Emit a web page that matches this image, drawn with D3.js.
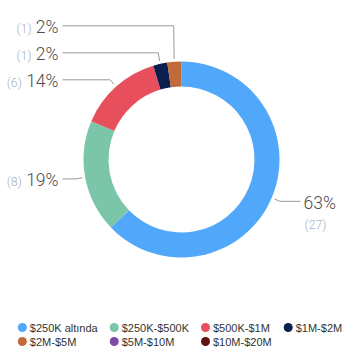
<!DOCTYPE html>
<html>
<head>
<meta charset="utf-8">
<script src="https://cdn.jsdelivr.net/npm/d3@7"></script>
<style>
  html, body { margin: 0; padding: 0; background: #fff; }
  svg { display: block; }
</style>
</head>
<body>
<svg id="chart" width="356" height="364"></svg>
<script>
const categories = ["$250K altında", "$250K-$500K", "$500K-$1M", "$1M-$2M", "$2M-$5M", "$5M-$10M", "$10M-$20M"];
const counts = [27, 8, 6, 1, 1, 0, 0];
const colors = ["#51a7fa", "#7bc6a9", "#e84f5c", "#0b1f4e", "#c26a3c", "#7d4aa6", "#5b1313"];

const W = 356, H = 364;
const cx = 181.5, cy = 159.5, R = 98, r = 73;
const svg = d3.select("#chart");
svg.append("rect").attr("width", W).attr("height", H).attr("fill", "#fff");

const data = categories.map((c, i) => ({ cat: c, count: counts[i], color: colors[i] }));
const total = d3.sum(counts);
const pie = d3.pie().sort(null).value(d => d.count);
const arcs = pie(data).filter(d => d.data.count > 0);
const arc = d3.arc().innerRadius(r).outerRadius(R);

const g = svg.append("g").attr("transform", `translate(${cx},${cy})`);
g.selectAll("path.slice").data(arcs).join("path")
  .attr("class", "slice")
  .attr("d", arc)
  .attr("fill", d => d.data.color);

const pt = (a, rad) => [rad * Math.sin(a), -rad * Math.cos(a)];
const labels = arcs.map(d => {
  const a = (d.startAngle + d.endAngle) / 2;
  const p1 = pt(a, R + 3);
  const p2 = pt(a, R + 9);
  return { d, a, p1, p2, side: a < Math.PI ? 1 : -1, y: p2[1] };
});
const left = labels.filter(l => l.side < 0).sort((a, b) => b.y - a.y);
for (let i = 1; i < left.length; i++) {
  left[i].y = Math.min(left[i].y, left[i - 1].y - 27);
}
const right = labels.filter(l => l.side > 0).sort((a, b) => a.y - b.y);
for (let i = 1; i < right.length; i++) {
  right[i].y = Math.max(right[i].y, right[i - 1].y + 27);
}
const lineEnd = 119;
const fontBig = 17.5, fontSmall = 12.5;
const family = "Roboto, 'Liberation Sans', sans-serif";

labels.forEach(l => {
  const endX = l.side * lineEnd;
  g.append("path")
    .attr("d", d3.line()([l.p1, [l.p2[0], l.y], [endX, l.y]]))
    .attr("fill", "none")
    .attr("stroke", "#999")
    .attr("stroke-width", 1);
  const pct = Math.round(l.d.data.count / total * 100) + "%";
  if (l.side < 0) {
    const t = g.append("text")
      .attr("x", endX - 4)
      .attr("y", l.y + 7.5)
      .attr("text-anchor", "end");
    t.append("tspan").text(`(${l.d.data.count})`)
      .attr("font-family", family)
      .attr("font-weight", 300)
      .attr("font-size", fontSmall)
      .attr("fill", "#a9b2bd");
    t.append("tspan").text(" " + pct)
      .attr("font-family", family)
      .attr("font-weight", 300)
      .attr("font-size", fontBig)
      .attr("fill", "#4d4d4d");
  } else {
    g.append("text")
      .attr("x", endX + 3)
      .attr("y", l.y + 7.5)
      .attr("font-family", family)
      .attr("font-weight", 300)
      .attr("font-size", fontBig)
      .attr("fill", "#4d4d4d")
      .text(pct);
    g.append("text")
      .attr("x", endX + 4)
      .attr("y", l.y + 28)
      .attr("font-family", family)
      .attr("font-weight", 300)
      .attr("font-size", fontSmall)
      .attr("fill", "#a9b2bd")
      .text(`(${l.d.data.count})`);
  }
});

const perRow = 4, rowH = 14, pad = 12, symW = 12;
const lg = svg.append("g");
const items = lg.selectAll("g.item").data(data).join("g").attr("class", "item");
items.append("circle").attr("r", 4.5).attr("cx", 4.5).attr("cy", 0).attr("fill", d => d.color);
items.append("text")
  .attr("x", symW)
  .attr("y", 4)
  .attr("font-family", "'Liberation Sans', Arial, sans-serif")
  .attr("font-size", 11)
  .attr("fill", "#333")
  .text(d => d.cat);
const widths = [];
items.each(function(d, i) {
  const w = d3.select(this).select("text").node().getComputedTextLength();
  const c = i % perRow;
  widths[c] = Math.max(widths[c] || 0, symW + w);
});
const colX = [0];
for (let c = 1; c < perRow; c++) colX[c] = colX[c - 1] + widths[c - 1] + pad;
const totalW = colX[perRow - 1] + widths[perRow - 1];
const x0 = (W - totalW) / 2 + 2;
items.attr("transform", (d, i) => `translate(${x0 + colX[i % perRow]},${327.5 + Math.floor(i / perRow) * rowH})`);
</script>
</body>
</html>
